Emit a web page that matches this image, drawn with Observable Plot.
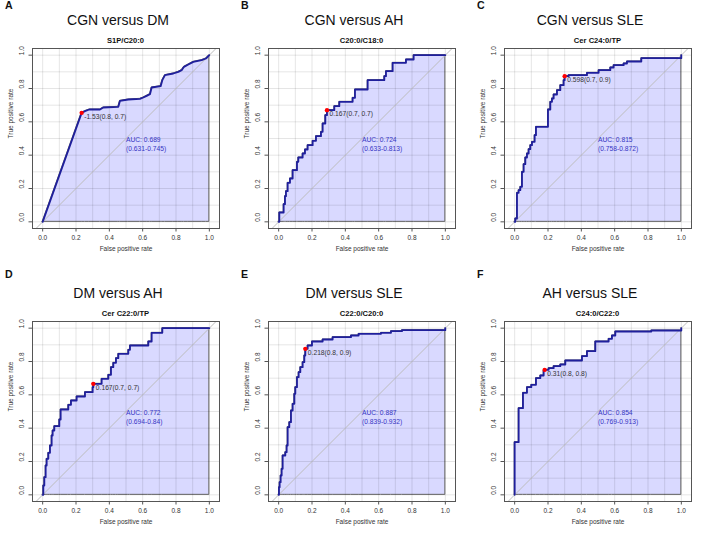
<!DOCTYPE html>
<html><head><meta charset="utf-8">
<script src="https://cdn.jsdelivr.net/npm/d3@7"></script>
<script src="https://cdn.jsdelivr.net/npm/@observablehq/plot@0.6"></script>
<style>
body{margin:0;background:#fff;font-family:"Liberation Sans",Arial,Helvetica,sans-serif;}
#root{position:relative;width:708px;height:533px;overflow:hidden;}
.panel{position:absolute;width:236px;height:273px;}
.letter{position:absolute;left:5px;font-weight:bold;font-size:10.6px;line-height:1;color:#111;}
.title{position:absolute;left:0;width:236px;text-align:center;font-size:14px;line-height:1;top:13px;color:#111;}
.sub{position:absolute;left:32px;width:187px;text-align:center;font-weight:bold;font-size:7.6px;line-height:1;top:37px;color:#111;}
.chart{position:absolute;left:0;top:44px;}
</style></head><body><div id="root"></div>
<script>
// ---- data ----
const letters = ["A", "B", "C", "D", "E", "F"];
const titles = ["CGN versus DM", "CGN versus AH", "CGN versus SLE", "DM versus AH", "DM versus SLE", "AH versus SLE"];
const subtitles = ["S1P/C20:0", "C20:0/C18:0", "Cer C24:0/TP", "Cer C22:0/TP", "C22:0/C20:0", "C24:0/C22:0"];
const aucValues = ["0.689", "0.724", "0.815", "0.772", "0.887", "0.854"];
const aucCI = ["0.631-0.745", "0.633-0.813", "0.758-0.872", "0.694-0.84", "0.839-0.932", "0.769-0.913"];
const thresholdLabels = ["-1.53(0.8, 0.7)", "0.167(0.7, 0.7)", "0.598(0.7, 0.9)", "0.167(0.7, 0.7)", "0.218(0.8, 0.9)", "0.31(0.8, 0.8)"];
const thresholdFpr = [0.234, 0.29, 0.3, 0.304, 0.16, 0.18];
const thresholdTpr = [0.654, 0.67, 0.874, 0.666, 0.876, 0.75];
const curveTypes = ["linear", "step-after", "step-after", "step-after", "step-after", "step-after"];

const fprA = [0, 0.234, 0.254, 0.28, 0.344, 0.364, 0.454, 0.464, 0.514, 0.584, 0.604, 0.624, 0.644, 0.654, 0.708, 0.718, 0.734, 0.784, 0.814, 0.834, 0.848, 0.874, 0.904, 0.954, 0.98, 1];
const tprA = [0, 0.654, 0.664, 0.674, 0.674, 0.686, 0.69, 0.726, 0.734, 0.738, 0.746, 0.756, 0.766, 0.806, 0.814, 0.85, 0.88, 0.89, 0.9, 0.91, 0.93, 0.944, 0.96, 0.97, 0.98, 1];

const fprB = [0, 0.004, 0.03, 0.038, 0.044, 0.054, 0.068, 0.084, 0.11, 0.118, 0.144, 0.158, 0.174, 0.204, 0.224, 0.254, 0.264, 0.28, 0.29, 0.334, 0.364, 0.444, 0.458, 0.534, 0.634, 0.644, 0.684, 0.764, 0.81, 1];
const tprB = [0, 0.056, 0.106, 0.154, 0.184, 0.234, 0.26, 0.31, 0.36, 0.386, 0.41, 0.434, 0.46, 0.486, 0.514, 0.54, 0.59, 0.64, 0.67, 0.694, 0.72, 0.744, 0.794, 0.85, 0.874, 0.904, 0.954, 0.974, 1, 1];

const fprC = [0, 0.004, 0.014, 0.024, 0.034, 0.044, 0.054, 0.064, 0.074, 0.084, 0.094, 0.104, 0.12, 0.128, 0.2, 0.214, 0.224, 0.234, 0.254, 0.274, 0.294, 0.3, 0.324, 0.434, 0.504, 0.574, 0.594, 0.654, 0.674, 0.76, 1];
const tprC = [0, 0.02, 0.174, 0.19, 0.21, 0.3, 0.346, 0.386, 0.41, 0.436, 0.46, 0.48, 0.52, 0.57, 0.674, 0.72, 0.74, 0.764, 0.79, 0.82, 0.85, 0.874, 0.88, 0.894, 0.91, 0.926, 0.94, 0.95, 0.962, 0.982, 1];

const fprD = [0, 0.004, 0.01, 0.018, 0.024, 0.034, 0.044, 0.054, 0.06, 0.07, 0.1, 0.108, 0.154, 0.17, 0.204, 0.254, 0.3, 0.304, 0.354, 0.394, 0.41, 0.424, 0.44, 0.454, 0.514, 0.524, 0.634, 0.654, 0.718, 1];
const tprD = [0, 0.056, 0.106, 0.176, 0.216, 0.252, 0.296, 0.356, 0.386, 0.412, 0.452, 0.512, 0.54, 0.566, 0.59, 0.616, 0.646, 0.666, 0.696, 0.72, 0.766, 0.792, 0.82, 0.846, 0.87, 0.896, 0.92, 0.972, 1, 1];

const fprE = [0, 0.002, 0.006, 0.012, 0.018, 0.024, 0.04, 0.048, 0.054, 0.064, 0.074, 0.084, 0.094, 0.1, 0.11, 0.12, 0.13, 0.144, 0.154, 0.16, 0.174, 0.2, 0.264, 0.324, 0.434, 0.48, 0.614, 0.674, 0.74, 1];
const tprE = [0, 0.046, 0.076, 0.116, 0.156, 0.236, 0.256, 0.296, 0.406, 0.436, 0.506, 0.546, 0.606, 0.646, 0.706, 0.736, 0.766, 0.796, 0.836, 0.876, 0.896, 0.92, 0.932, 0.946, 0.956, 0.966, 0.972, 0.982, 0.988, 1];

const fprF = [0, 0, 0.024, 0.05, 0.074, 0.1, 0.128, 0.154, 0.174, 0.18, 0.204, 0.234, 0.274, 0.304, 0.404, 0.434, 0.484, 0.564, 0.584, 0.604, 0.82, 1];
const tprF = [0, 0.316, 0.52, 0.612, 0.646, 0.66, 0.7, 0.716, 0.746, 0.75, 0.76, 0.772, 0.782, 0.806, 0.832, 0.862, 0.92, 0.936, 0.956, 0.98, 0.986, 1];

const axisTicks = [0, 0.2, 0.4, 0.6, 0.8, 1.0];
const gridTicks = [0, 0.1, 0.2, 0.3, 0.4, 0.5, 0.6, 0.7, 0.8, 0.9, 1.0];
const xLabel = "False positive rate";
const yLabel = "True positive rate";

// ---- layout ----
const fprs = [fprA, fprB, fprC, fprD, fprE, fprF];
const tprs = [tprA, tprB, tprC, tprD, tprE, tprF];
const xDomain = [-0.061, 1.061];
const yDomain = [-0.04, 1.04];
const fmt = d3.format(".1f");
const FONT = '"Liberation Sans", Arial, Helvetica, sans-serif';

function makeChart(i) {
  const pts = fprs[i].map((x, j) => ({x, y: tprs[i][j]}));
  const curve = curveTypes[i];
  return Plot.plot({
    width: 236, height: 214,
    marginLeft: 32, marginRight: 17, marginTop: 4, marginBottom: 30,
    x: {domain: xDomain},
    y: {domain: yDomain},
    style: {fontFamily: FONT, fontSize: "6.5px", color: "#333", background: "transparent"},
    marks: [
      Plot.areaY(pts, {x: "x", y: "y", curve, fill: "#0000ff", fillOpacity: 0.15, stroke: "#666", strokeWidth: 1}),
      Plot.gridX(gridTicks, {stroke: "#000", strokeOpacity: 0.1}),
      Plot.gridY(gridTicks, {stroke: "#000", strokeOpacity: 0.1}),
      Plot.link([0], {x1: yDomain[0], y1: yDomain[0], x2: yDomain[1], y2: yDomain[1], stroke: "#bdbdbd", strokeWidth: 1}),
      Plot.line(pts, {x: "x", y: "y", curve, stroke: "#1f1f9c", strokeWidth: 1.8}),
      Plot.dot([i], {x: d => thresholdFpr[d], y: d => thresholdTpr[d], r: 2.2, fill: "#ff0000", stroke: "none"}),
      Plot.text([i], {x: d => thresholdFpr[d], y: d => thresholdTpr[d], text: d => thresholdLabels[d],
        textAnchor: "start", dx: 2.5, dy: 4, fontSize: 6.7, fill: "#333"}),
      Plot.text([i], {x: 0.5, y: 0.5, text: d => `AUC: ${aucValues[d]}\n(${aucCI[d]})`,
        textAnchor: "start", lineAnchor: "top", lineHeight: 1.25, dy: -2, fontSize: 6.7, fill: "#3535c4"}),
      Plot.frame({stroke: "#555"}),
      Plot.axisX(axisTicks, {tickSize: 3.5, tickPadding: 3, tickFormat: fmt, label: null, stroke: "#555", fill: "#333", fontSize: 6.5}),
      Plot.axisY(axisTicks, {tickSize: 3.5, tickFormat: () => "", label: null, stroke: "#555"}),
      Plot.text(axisTicks, {y: d => d, text: d => fmt(d), frameAnchor: "left", dx: -11, rotate: -90, fontSize: 6.5, fill: "#333"}),
      Plot.text([xLabel], {frameAnchor: "bottom", dy: 22, fontSize: 6.5, fill: "#333"}),
      Plot.text([yLabel], {frameAnchor: "left", dx: -22, rotate: -90, fontSize: 6.5, fill: "#333"})
    ]
  });
}

const root = document.getElementById("root");
const letterTops = [0.3, -3.7];
for (let i = 0; i < 6; i++) {
  const row = Math.floor(i / 3), col = i % 3;
  const p = document.createElement("div");
  p.className = "panel";
  p.style.left = (col * 236) + "px";
  p.style.top = (row * 273) + "px";
  const l = document.createElement("div");
  l.className = "letter"; l.textContent = letters[i]; l.style.top = letterTops[row] + "px";
  const t = document.createElement("div");
  t.className = "title"; t.textContent = titles[i];
  const s = document.createElement("div");
  s.className = "sub"; s.textContent = subtitles[i];
  const c = document.createElement("div");
  c.className = "chart";
  c.appendChild(makeChart(i));
  p.append(l, t, s, c);
  root.appendChild(p);
}
</script></body></html>
